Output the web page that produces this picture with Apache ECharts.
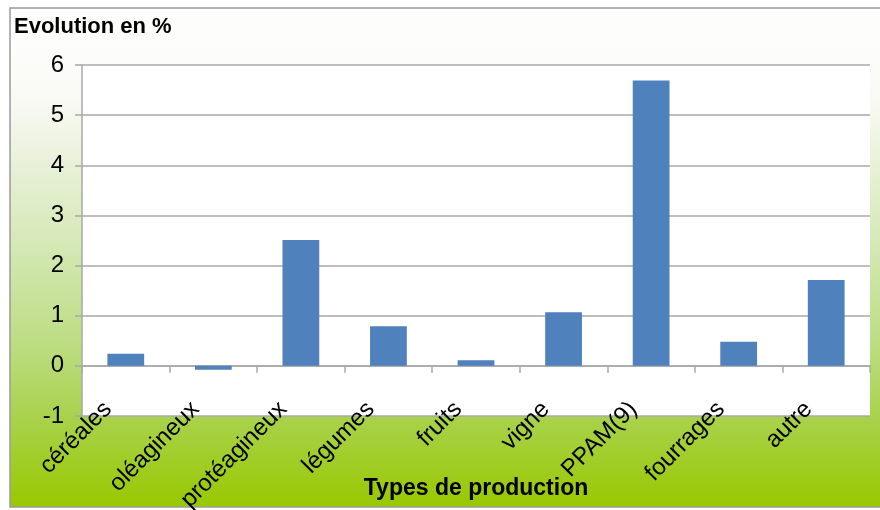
<!DOCTYPE html>
<html>
<head>
<meta charset="utf-8">
<script src="https://cdn.jsdelivr.net/npm/echarts@6/dist/echarts.min.js"></script>
<style>
  html, body { margin: 0; padding: 0; background: #ffffff; }
  #chart { width: 880px; height: 510px; }
</style>
</head>
<body>
<div id="chart"></div>
<script>
// Production types and their change in percent
const categories = ['céréales', 'oléagineux', 'protéagineux', 'légumes', 'fruits', 'vigne', 'PPAM(9)', 'fourrages', 'autre'];
const evolution = [0.24, -0.08, 2.51, 0.79, 0.11, 1.07, 5.69, 0.48, 1.71];
const yTicks = [-1, 0, 1, 2, 3, 4, 5, 6];

const FONT = "'Liberation Sans', Arial, sans-serif";
const GRID_GRAY = '#a8a8a8';

const chart = echarts.init(document.getElementById('chart'), null, { renderer: 'canvas' });

chart.setOption({
  animation: false,
  backgroundColor: '#ffffff',
  textStyle: { fontFamily: FONT, color: '#000' },
  graphic: [
    {
      type: 'rect',
      z: -10,
      shape: { x: 10, y: 8, width: 875, height: 499 },
      style: {
        fill: new echarts.graphic.LinearGradient(0, 0, 0, 1, [
          { offset: 0, color: '#fefefe' },
          { offset: 0.18, color: '#fafaf5' },
          { offset: 0.28, color: '#ecf3df' },
          { offset: 0.48, color: '#d4e8b4' },
          { offset: 0.68, color: '#bcdc80' },
          { offset: 0.82, color: '#a9d24c' },
          { offset: 1, color: '#98c800' }
        ]),
        stroke: '#9a9a9a',
        lineWidth: 1.5
      }
    },
    {
      type: 'text',
      left: 14,
      top: 16,
      style: {
        text: 'Evolution en %',
        font: "bold 22px " + FONT,
        fill: '#000'
      }
    }
  ],
  grid: {
    left: 82,
    right: 10,
    top: 65,
    bottom: 94,
    outerBoundsMode: 'none',
    containLabel: false,
    show: true,
    backgroundColor: '#ffffff',
    borderWidth: 0
  },
  xAxis: [
    {
      // axis line through zero with boundary ticks
      type: 'category',
      data: categories,
      boundaryGap: true,
      axisLine: { show: true, onZero: true, lineStyle: { color: GRID_GRAY, width: 1.5 } },
      axisTick: { show: true, length: 7, interval: 0, alignWithLabel: false, lineStyle: { color: GRID_GRAY, width: 1.5 } },
      axisLabel: { show: false, interval: 0 },
      splitLine: { show: false }
    },
    {
      // category labels along the bottom of the plot
      type: 'category',
      data: categories,
      position: 'bottom',
      offset: 0,
      boundaryGap: true,
      axisLine: { show: false, onZero: false },
      axisTick: { show: false },
      axisLabel: {
        show: true,
        rotate: 45,
        interval: 0,
        margin: -28,
        padding: [0, 25, 0, 0],
        fontSize: 24,
        color: '#000',
        fontFamily: FONT
      },
      name: 'Types de production',
      nameLocation: 'middle',
      nameGap: 61,
      nameMoveOverlap: false,
      nameTextStyle: { fontSize: 23, fontWeight: 'bold', color: '#000', fontFamily: FONT }
    }
  ],
  yAxis: {
    type: 'value',
    min: yTicks[0],
    max: yTicks[yTicks.length - 1],
    interval: 1,
    axisLine: { show: true, lineStyle: { color: GRID_GRAY, width: 1.5 } },
    axisTick: { show: true, inside: false, length: 7, lineStyle: { color: GRID_GRAY, width: 1.5 } },
    axisLabel: {
      margin: 18,
      fontSize: 24,
      color: '#000',
      fontFamily: FONT
    },
    splitLine: { show: true, lineStyle: { color: GRID_GRAY, width: 1.5 } }
  },
  series: [
    {
      type: 'bar',
      xAxisIndex: 0,
      data: evolution,
      barWidth: '42%',
      itemStyle: { color: '#4f81bd' }
    }
  ]
});
</script>
</body>
</html>
